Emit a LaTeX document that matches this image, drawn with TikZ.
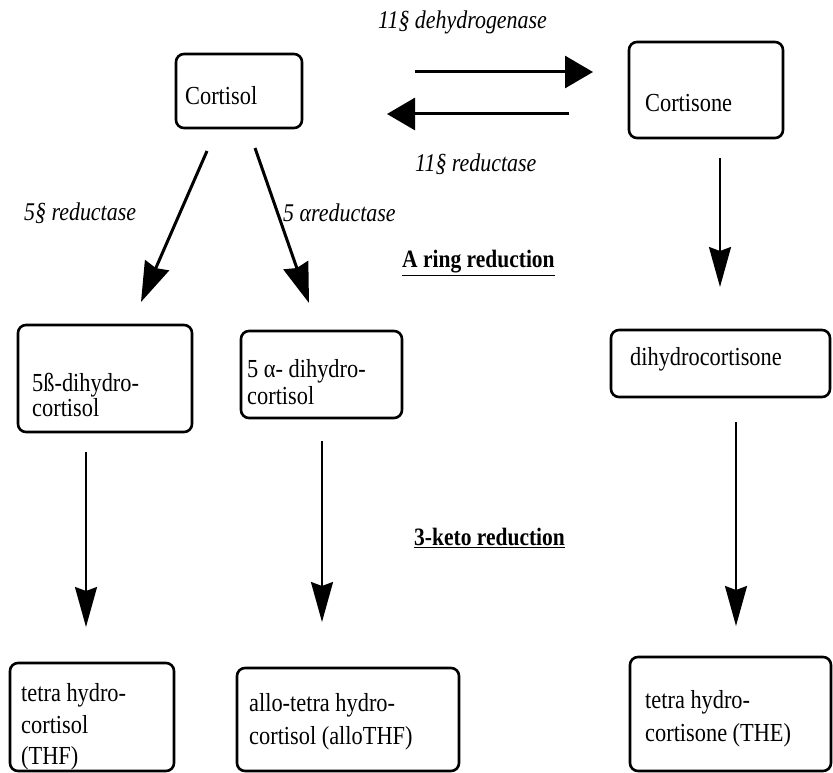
\documentclass[tikz,border=0pt]{standalone}
\usepackage{fontspec}
\setmainfont[FakeStretch=0.86]{Liberation Serif}
\usetikzlibrary{arrows.meta}
\begin{document}
\begin{tikzpicture}[x=1pt,y=-1pt,
  boxnode/.style={draw,line width=2.6pt,rounded corners=8pt,inner sep=0pt},
  txt/.style={anchor=west,inner sep=0pt,align=left,font=\fontsize{26}{30}\selectfont},
  lab/.style={anchor=west,inner sep=0pt,font=\fontsize{25.5}{28}\selectfont\itshape},
  head/.style={anchor=west,inner sep=0pt,font=\fontsize{25}{28}\selectfont\bfseries},
  harr/.style={line width=3pt,-{Triangle[length=28pt,width=32pt]}},
  darr/.style={line width=3pt,-{Stealth[length=40pt,width=26pt,inset=3pt]}},
  varr/.style={line width=2.2pt,-{Stealth[length=40pt,width=22pt,inset=4pt]}}]
\useasboundingbox (0,0) rectangle (833,773);
% boxes
\node[boxnode,minimum width=126pt,minimum height=74pt] (cortisol) at (239,91) {};
\node[boxnode,minimum width=154pt,minimum height=96pt] (cortisone) at (706,90) {};
\node[boxnode,minimum width=174pt,minimum height=107pt] (dh5b) at (105,378.5) {};
\node[boxnode,minimum width=161pt,minimum height=87pt] (dh5a) at (321.5,374.5) {};
\node[boxnode,minimum width=219pt,minimum height=67pt] (dhcne) at (720.5,363.5) {};
\node[boxnode,minimum width=164pt,minimum height=108pt] (thf) at (92,717) {};
\node[boxnode,minimum width=222pt,minimum height=103pt] (allo) at (348,719.5) {};
\node[boxnode,minimum width=201pt,minimum height=114pt] (the) at (730.5,714) {};
% box texts
\node[txt] (tcortisol) at (185,96) {Cortisol};
\node[txt] (tcortisone) at (645,103) {Cortisone};
\node[txt,font=\fontsize{26}{25}\selectfont] (tdh5b) at (32,395) {5ß-dihydro-\\cortisol};
\node[txt,font=\fontsize{26}{27}\selectfont] (tdh5a) at (247,382) {5 α- dihydro-\\cortisol};
\node[txt] (tdhcne) at (630,359) {dihydrocortisone};
\node[txt,font=\fontsize{26}{31.5}\selectfont] (tthf) at (21,727) {tetra hydro-\\cortisol\\(THF)};
\node[txt,font=\fontsize{26}{33}\selectfont] (tallo) at (249,722) {allo-tetra hydro-\\cortisol (alloTHF)};
\node[txt,font=\fontsize{26}{33}\selectfont] (tthe) at (645,719) {tetra hydro-\\cortisone (THE)};
% labels
\node[lab] (l1) at (378,22) {11§ dehydrogenase};
\node[lab] (l2) at (415,164) {11§ reductase};
\node[lab] (l3) at (24,213) {5§ reductase};
\node[lab] (l4) at (283,213) {5 αreductase};
\node[head] (h1) at (402,263) {\underline{A ring reduction}};
\node[head] (h2) at (414,538) {\underline{3-keto reduction}};
% arrow endpoints
\coordinate (a1s) at (415,72);  \coordinate (a1e) at (593,72);
\coordinate (a2s) at (569,114); \coordinate (a2e) at (387,114);
\coordinate (a3s) at (207,151); \coordinate (a3e) at (141,302);
\coordinate (a4s) at (255,148); \coordinate (a4e) at (309,303);
\coordinate (a5s) at (720,158); \coordinate (a5e) at (720,287);
\coordinate (a6s) at (86,452);  \coordinate (a6e) at (86,627);
\coordinate (a7s) at (322,441); \coordinate (a7e) at (322,622);
\coordinate (a8s) at (736,422); \coordinate (a8e) at (736,626);
% arrows
\draw[harr] (a1s) -- (a1e);
\draw[harr] (a2s) -- (a2e);
\draw[darr] (a3s) -- (a3e);
\draw[darr] (a4s) -- (a4e);
\draw[varr] (a5s) -- (a5e);
\draw[varr] (a6s) -- (a6e);
\draw[varr] (a7s) -- (a7e);
\draw[varr] (a8s) -- (a8e);
\end{tikzpicture}
\end{document}
